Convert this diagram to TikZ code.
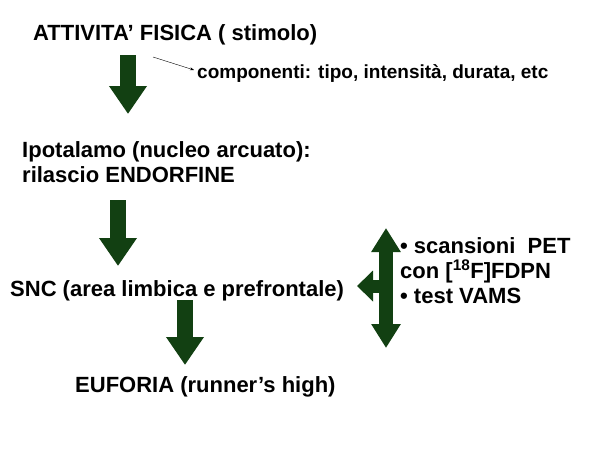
\documentclass[tikz,border=0pt]{standalone}
\usepackage{fontspec}
\setmainfont{Liberation Sans}
\usetikzlibrary{arrows.meta}
\definecolor{darkgreen}{RGB}{18,64,18}
\tikzset{
  label/.style={anchor=base west, inner sep=0pt, font=\bfseries\fontsize{22}{25}\selectfont},
  small/.style={anchor=base west, inner sep=0pt, font=\bfseries\fontsize{19}{22}\selectfont},
  bigarrow/.style={darkgreen, line width=16pt, -{Triangle[length=28pt, width=36pt]}},
  sidearrow/.style={darkgreen, line width=14pt, {Triangle[length=24pt, width=28pt]}-{Triangle[length=24pt, width=28pt]}}
}
\begin{document}
\begin{tikzpicture}[x=1pt,y=-1pt]
\useasboundingbox (0,0) rectangle (600,450);
\node[label] (att) at (33,40) {ATTIVITA’ FISICA ( stimolo)};
\node[small] (comp) at (197,78) {componenti: tipo, intensità, durata, etc};
\node[label] (ipo) at (22,157) {Ipotalamo (nucleo arcuato):};
\node[label] (ril) at (22,182) {rilascio ENDORFINE};
\node[label] (snc) at (10,296) {SNC (area limbica e prefrontale)};
\node[label] (euf) at (75,392) {EUFORIA (runner’s high)};
\node[label, align=left, anchor=north west] (met) at (400,237) {\textbullet\ scansioni\ \ PET\\con [\textsuperscript{18}F]FDPN\\\textbullet\ test VAMS};
\coordinate (a1) at (128,55); \coordinate (b1) at (128,114);
\coordinate (a2) at (118,200); \coordinate (b2) at (118,266);
\coordinate (a3) at (185,300); \coordinate (b3) at (185,365);
\draw[bigarrow] (a1) -- (b1);
\draw[bigarrow] (a2) -- (b2);
\draw[bigarrow] (a3) -- (b3);
\coordinate (v1) at (386,228); \coordinate (v2) at (386,348);
\coordinate (h1) at (390,286); \coordinate (h2) at (357,286);
\draw[sidearrow] (v1) -- (v2);
\draw[darkgreen, line width=13pt, -{Triangle[length=16pt, width=30pt]}] (h1) -- (h2);
\coordinate (t1) at (153,57); \coordinate (t2) at (194,70);
\draw[-{Stealth[length=4pt]}, thin] (t1) -- (t2);
\end{tikzpicture}
\end{document}
